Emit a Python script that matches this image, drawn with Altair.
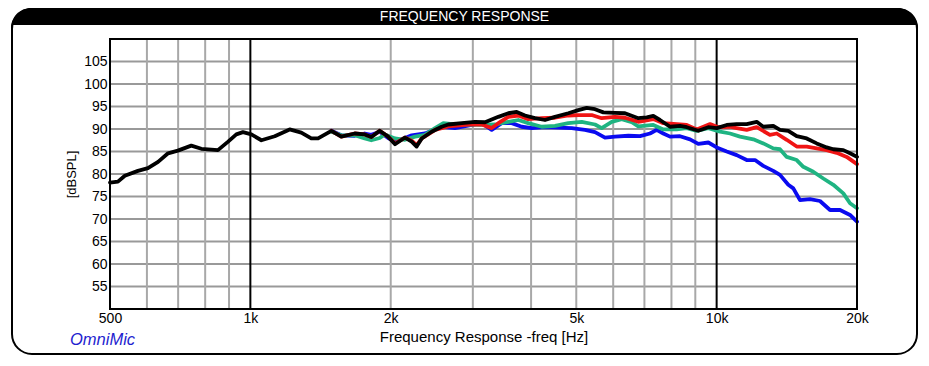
import altair as alt
import pandas as pd

# ---------------- data ----------------
black_f = [500, 520, 538, 574, 603, 634, 666, 699, 747, 785, 852, 896, 933, 964, 1005, 1056, 1128, 1214, 1286, 1351,
           1397, 1492, 1567, 1674, 1759, 1817, 1894, 1974, 2043, 2146, 2218, 2273, 2331, 2448, 2572, 2657, 2840, 3033, 3186, 3403,
           3575, 3726, 3881, 4078, 4284, 4501, 4807, 5051, 5264, 5485, 5715, 6054, 6360, 6792, 7079, 7314, 7560, 7944, 8346, 8627,
           9135, 9598, 10004, 10511, 11042, 11601, 12189, 12592, 13227, 13671, 14245, 14849, 15601, 16392, 17222, 17795, 18694, 19324, 20000]
black_db = [78.1, 78.3, 79.6, 80.7, 81.3, 82.7, 84.6, 85.2, 86.3, 85.6, 85.3, 87.2, 88.8, 89.3, 88.8, 87.5, 88.4, 89.9, 89.2, 87.9,
            87.9, 89.6, 88.3, 89.0, 88.8, 88.2, 89.6, 88.3, 86.6, 88.1, 87.2, 86.1, 87.9, 89.4, 90.5, 91.0, 91.3, 91.6, 91.5, 92.7,
            93.5, 93.8, 93.0, 92.4, 92.0, 92.7, 93.5, 94.2, 94.7, 94.4, 93.7, 93.6, 93.5, 92.4, 92.6, 92.9, 92.0, 90.5, 90.7, 90.4,
            89.6, 90.4, 90.2, 90.9, 91.1, 91.1, 91.6, 90.5, 90.7, 89.8, 89.6, 88.4, 87.9, 86.8, 85.9, 85.5, 85.3, 84.6, 83.8]

red_f = [1492, 1567, 1674, 1759, 1817, 1894, 1974, 2043, 2146, 2218, 2273, 2331, 2448, 2489, 2657, 2934, 3135, 3293, 3403, 3575,
         3756, 3944, 4216, 4501, 4807, 5051, 5396, 5669, 6054, 6360, 6792, 7314, 7684, 8211, 8627, 9063, 9679, 10083, 10684, 11042,
         11601, 12189, 13010, 13454, 14134, 14849, 15601, 16392, 17222, 18092, 19009, 20000]
red_db = [89.6, 88.3, 89.0, 88.8, 88.2, 89.6, 88.3, 86.8, 88.1, 87.4, 86.4, 87.9, 89.3, 89.8, 90.6, 91.0, 91.0, 90.2, 91.3, 92.7,
          93.0, 92.2, 92.4, 92.5, 93.0, 93.1, 93.1, 92.4, 92.7, 92.5, 91.6, 92.2, 91.3, 91.1, 90.9, 89.9, 91.1, 90.4, 90.5, 90.2,
          89.8, 90.4, 88.7, 89.0, 87.6, 86.1, 86.1, 85.7, 85.3, 84.7, 83.8, 82.2]

green_f = [1492, 1567, 1674, 1759, 1817, 1894, 1944, 2043, 2146, 2255, 2369, 2489, 2593, 2747, 2934, 3135, 3348, 3575, 3756, 3944,
           4216, 4501, 4807, 5136, 5485, 5669, 5957, 6258, 6576, 6792, 7314, 7684, 8211, 8627, 9063, 9598, 10170, 10684, 11223, 11986,
           12592, 13227, 13671, 14134, 14849, 15342, 16116, 16935, 17795, 18694, 19324, 20000]
green_db = [89.4, 88.6, 88.6, 87.9, 87.5, 88.0, 88.8, 87.9, 87.6, 88.3, 88.7, 90.2, 91.3, 91.0, 91.0, 90.9, 91.0, 91.6, 92.0, 91.3,
            90.5, 90.7, 91.3, 91.6, 91.0, 90.2, 91.6, 92.2, 91.5, 90.6, 90.9, 89.9, 89.9, 90.2, 89.6, 90.2, 89.4, 89.0, 88.3, 87.7,
            86.8, 85.7, 85.5, 83.8, 83.1, 81.6, 80.5, 79.0, 77.6, 75.7, 73.5, 72.4]

blue_f = [1492, 1567, 1674, 1759, 1817, 1894, 1974, 2043, 2146, 2218, 2369, 2572, 2747, 2984, 3135, 3293, 3460, 3636, 3819, 4012,
          4284, 4575, 4889, 5220, 5485, 5762, 6054, 6466, 6849, 7196, 7438, 7684, 7944, 8346, 8768, 9135, 9598, 10004, 10511, 11042,
          11601, 12086, 12592, 13227, 13671, 14245, 14603, 15093, 15856, 16658, 17505, 18394, 19324, 20000]
blue_db = [89.6, 88.6, 88.5, 89.0, 88.7, 89.4, 88.0, 87.2, 88.0, 88.6, 89.0, 90.5, 90.2, 90.9, 91.3, 89.8, 91.3, 91.3, 90.5, 90.2,
           90.4, 90.3, 90.2, 89.8, 89.3, 88.1, 88.3, 88.5, 88.4, 89.0, 89.8, 89.0, 88.3, 88.4, 87.7, 86.7, 87.0, 85.9, 85.0, 84.2,
           83.1, 83.1, 81.8, 80.7, 79.8, 77.6, 76.8, 74.2, 74.4, 74.0, 72.0, 72.0, 70.9, 69.4]

x_ticks = [500, 1000, 2000, 5000, 10000, 20000]
x_tick_labels = ["500", "1k", "2k", "5k", "10k", "20k"]
y_ticks = [55, 60, 65, 70, 75, 80, 85, 90, 95, 100, 105]
x_minor_grid = [600, 700, 800, 900, 2000, 3000, 4000, 5000, 6000, 7000, 8000, 9000]
x_major_grid = [1000, 10000]

chart_title = "FREQUENCY RESPONSE"
x_title = "Frequency Response -freq [Hz]"
y_title = "[dBSPL]"
brand = "OmniMic"

# ---------------- layout ----------------
W, H = 747, 270
FONT = "Arial"

x_scale = alt.Scale(type="log", domain=[500, 20000], nice=False)
y_scale = alt.Scale(domain=[50, 110], nice=False, zero=False)

label_expr = " : ".join(
    [f"datum.value == {v} ? '{t}'" for v, t in zip(x_ticks, x_tick_labels)]
) + " : ''"

x_axis = alt.Axis(values=x_ticks, labelExpr=label_expr, title=x_title, grid=False, domain=False,
                  ticks=False, labelPadding=2, titlePadding=4, labelFontSize=14, titleFontSize=15,
                  labelFlush=False, labelOverlap=False, labelBound=False)
y_axis = alt.Axis(values=y_ticks, title=y_title, grid=False, domain=False, ticks=False,
                  labelPadding=3, titlePadding=5, labelFontSize=14, titleFontSize=13,
                  labelOverlap=False, labelFlush=False, labelBound=False)

one = pd.DataFrame({"k": [0]})

# title bar: black rounded block, lower half covered in white, outline on top
bar = alt.Chart(one).mark_rect(fill="black", cornerRadius=20).encode(
    x=alt.value(-99), x2=alt.value(808), y=alt.value(-31), y2=alt.value(12))
bar_cover = alt.Chart(one).mark_rect(fill="white").encode(
    x=alt.value(-98), x2=alt.value(807), y=alt.value(-14), y2=alt.value(14))
frame = alt.Chart(one).mark_rect(fillOpacity=0, stroke="black", strokeWidth=2, cornerRadius=20).encode(
    x=alt.value(-98), x2=alt.value(807), y=alt.value(-30), y2=alt.value(315))

hgrid = alt.Chart(pd.DataFrame({"v": y_ticks})).mark_rule(color="#999999", strokeWidth=2).encode(
    y=alt.Y("v:Q", scale=y_scale, axis=y_axis), x=alt.value(0), x2=alt.value(W))
vgrid_minor = alt.Chart(pd.DataFrame({"f": x_minor_grid})).mark_rule(color="#a8a8a8", strokeWidth=2).encode(
    x=alt.X("f:Q", scale=x_scale, axis=x_axis), y=alt.value(0), y2=alt.value(H))
vgrid_major = alt.Chart(pd.DataFrame({"f": x_major_grid})).mark_rule(color="black", strokeWidth=2).encode(
    x=alt.X("f:Q", scale=x_scale, axis=x_axis), y=alt.value(0), y2=alt.value(H))

border = alt.Chart(one).mark_rect(fillOpacity=0, stroke="black", strokeWidth=2).encode(
    x=alt.value(0), x2=alt.value(W), y=alt.value(0), y2=alt.value(H))


def curve(f, db, color):
    df = pd.DataFrame({"f": f, "db": db})
    return alt.Chart(df).mark_line(color=color, strokeWidth=3.8, strokeJoin="round", strokeCap="round").encode(
        x=alt.X("f:Q", scale=x_scale, axis=x_axis),
        y=alt.Y("db:Q", scale=y_scale, axis=y_axis),
        order="f:Q")


blue = curve(blue_f, blue_db, "#0a0af0")
green = curve(green_f, green_db, "#1fb482")
red = curve(red_f, red_db, "#f01414")
black = curve(black_f, black_db, "#000000")

title_txt = alt.Chart(one).mark_text(text=chart_title, color="white", fontSize=14, font=FONT,
                                     align="center", baseline="middle").encode(
    x=alt.value(354.5), y=alt.value(-22))
brand_txt = alt.Chart(one).mark_text(text=brand, color="#1f1fd0", fontSize=16.5, font=FONT,
                                     fontStyle="italic", align="left", baseline="middle").encode(
    x=alt.value(-40), y=alt.value(301))

chart = alt.layer(
    bar, bar_cover, frame, hgrid, vgrid_minor, vgrid_major,
    blue, green, red, black, border, title_txt, brand_txt
).properties(
    width=W, height=H,
    autosize=alt.AutoSizeParams(type="none"),
    padding={"left": 102, "top": 31, "right": 64, "bottom": 49},
).configure_view(stroke="transparent").configure_axis(
    labelFont=FONT, titleFont=FONT, labelColor="black", titleColor="black", titleFontWeight="normal",
    labelOverlap=False
)

chart.save("out.html", embed_options={"renderer": "svg", "actions": False})
